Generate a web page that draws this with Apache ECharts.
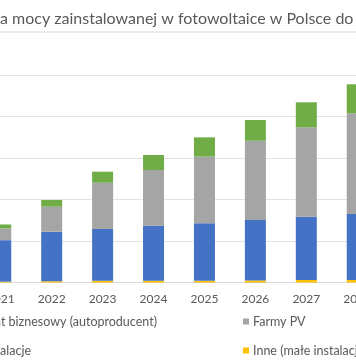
<!DOCTYPE html>
<html>
<head>
<meta charset="utf-8">
<script src="https://cdn.jsdelivr.net/npm/echarts@6/dist/echarts.min.js"></script>
<style>
html,body{margin:0;padding:0;background:#fff;}
#chart{width:356px;height:364px;}
</style>
</head>
<body>
<div id="chart"></div>
<script>
const titleText = 'a mocy zainstalowanej w fotowoltaice w Polsce do';
const years = ['2021', '2022', '2023', '2024', '2025', '2026', '2027', '2028'];
const seriesNames = ['Prosument biznesowy (autoproducent)', 'Farmy PV', 'Mikroinstalacje', 'Inne (małe instalacje)'];
const prosumentBiznesowy = [0.48, 0.81, 1.33, 1.81, 2.33, 2.5, 3.01, 3.49];
const farmyPV = [1.41, 3.01, 5.57, 6.71, 8.03, 9.55, 10.77, 12.14];
const mikroinstalacje = [5.0, 5.97, 6.25, 6.64, 6.93, 7.28, 7.63, 7.95];
const inne = [0.1, 0.15, 0.2, 0.2, 0.2, 0.25, 0.3, 0.3];
const yTicks = [0, 5, 10, 15, 20, 25];

const colors = {
  'Prosument biznesowy (autoproducent)': '#70AD47',
  'Farmy PV': '#A5A5A5',
  'Mikroinstalacje': '#4472C4',
  'Inne (małe instalacje)': '#FFC000'
};
const FONT = 'Lato';
const TXT = '#595959';

function bar(name, data) {
  return {
    name: name, type: 'bar', stack: 'total', data: data,
    barWidth: 21,
    itemStyle: { color: colors[name] },
    emphasis: { disabled: true }
  };
}
function legendItem(name, pos) {
  return Object.assign({
    data: [name], orient: 'horizontal',
    icon: 'rect', itemWidth: 6, itemHeight: 6, itemGap: 0, padding: 0,
    selectedMode: false,
    textStyle: { fontFamily: FONT, fontSize: 12.5, color: TXT, padding: [0, 0, 0, -1] }
  }, pos);
}

const chart = echarts.init(document.getElementById('chart'), null, { renderer: 'canvas' });
chart.setOption({
  animation: false,
  backgroundColor: '#fff',
  title: {
    text: titleText, left: 0, top: 11, padding: 0,
    textStyle: { fontFamily: FONT, fontSize: 16, fontWeight: 'normal', color: TXT }
  },
  graphic: [{
    type: 'rect', shape: { x: 0, y: 31, width: 356, height: 2 },
    style: { fill: '#ececec' }, silent: true
  }],
  legend: [
    legendItem(seriesNames[0], { right: 199, top: 315 }),
    legendItem(seriesNames[1], { left: 243, top: 315 }),
    legendItem(seriesNames[2], { right: 325, top: 344 }),
    legendItem(seriesNames[3], { left: 243, top: 344 })
  ],
  grid: { left: -24.7, right: -26.7, top: 75, bottom: 81.5, outerBoundsMode: 'none', containLabel: false },
  xAxis: {
    type: 'category', data: years,
    axisLine: { show: true, lineStyle: { color: '#d9d9d9', width: 1 } },
    axisTick: { show: false },
    axisLabel: { fontFamily: FONT, fontSize: 12, color: TXT, margin: 11 }
  },
  yAxis: {
    type: 'value', min: yTicks[0], max: yTicks[yTicks.length - 1], interval: yTicks[1] - yTicks[0],
    axisLabel: { show: false }, axisLine: { show: false }, axisTick: { show: false },
    splitLine: { lineStyle: { color: '#e3e3e3', width: 1 } }
  },
  series: [
    bar('Inne (małe instalacje)', inne),
    bar('Mikroinstalacje', mikroinstalacje),
    bar('Farmy PV', farmyPV),
    bar('Prosument biznesowy (autoproducent)', prosumentBiznesowy)
  ]
});
</script>
</body>
</html>
